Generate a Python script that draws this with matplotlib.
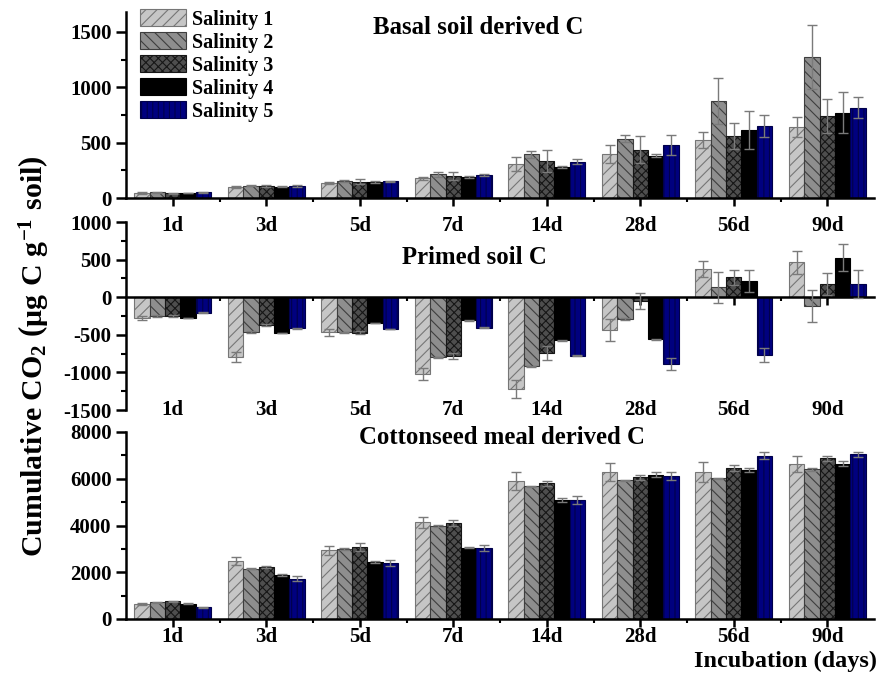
import numpy as np
import matplotlib
matplotlib.use("Agg")
import matplotlib.pyplot as plt
import matplotlib.transforms as mtransforms
from matplotlib.ticker import MultipleLocator, FixedLocator

plt.rcParams['font.family'] = ['Liberation Serif', 'DejaVu Serif']
plt.rcParams['font.weight'] = 'bold'
plt.rcParams['mathtext.fontset'] = 'custom'
plt.rcParams['mathtext.rm'] = 'Liberation Serif:bold'
plt.rcParams['mathtext.it'] = 'Liberation Serif:bold'
plt.rcParams['mathtext.bf'] = 'Liberation Serif:bold'
plt.rcParams['mathtext.default'] = 'rm'
plt.rcParams['hatch.linewidth'] = 0.8
plt.rcParams['axes.unicode_minus'] = False

days = ['1d', '3d', '5d', '7d', '14d', '28d', '56d', '90d']
series = ['Salinity 1', 'Salinity 2', 'Salinity 3', 'Salinity 4', 'Salinity 5']

basal_s1 = [45, 97, 136, 178, 307, 395, 522, 645]
basal_s2 = [50, 112, 157, 214, 395, 536, 880, 1275]
basal_s3 = [42, 108, 148, 199, 337, 437, 561, 741]
basal_s4 = [46, 102, 145, 190, 283, 383, 618, 771]
basal_s5 = [52, 108, 151, 205, 328, 476, 651, 816]
basal_e1 = [5, 8, 10, 12, 60, 80, 72, 90]
basal_e2 = [5, 8, 8, 20, 33, 30, 208, 286]
basal_e3 = [4, 6, 25, 40, 100, 124, 120, 157]
basal_e4 = [3, 5, 6, 8, 10, 10, 171, 185]
basal_e5 = [4, 5, 6, 8, 20, 90, 100, 94]

primed_s1 = [-276, -796, -467, -1027, -1218, -440, 378, 462]
primed_s2 = [-253, -462, -467, -800, -920, -289, 129, -116]
primed_s3 = [-249, -373, -476, -782, -738, -50, 262, 173]
primed_s4 = [-276, -476, -342, -307, -573, -560, 213, 524]
primed_s5 = [-204, -413, -422, -404, -778, -889, -769, 178]
primed_e1 = [22, 66, 50, 80, 120, 147, 106, 151]
primed_e2 = [10, 10, 10, 10, 10, 10, 209, 213]
primed_e3 = [10, 10, 20, 36, 93, 108, 98, 143]
primed_e4 = [5, 5, 5, 5, 5, 10, 147, 178]
primed_e5 = [5, 5, 5, 5, 10, 75, 98, 182]

cotton_s1 = [654, 2479, 2934, 4131, 5912, 6296, 6296, 6638]
cotton_s2 = [712, 2151, 2991, 3974, 5670, 5926, 6011, 6396]
cotton_s3 = [755, 2222, 3091, 4117, 5812, 6068, 6453, 6880]
cotton_s4 = [654, 1880, 2436, 3048, 5085, 6168, 6382, 6652]
cotton_s5 = [500, 1724, 2393, 3034, 5085, 6111, 6994, 7051]
cotton_e1 = [40, 170, 200, 240, 385, 385, 430, 330]
cotton_e2 = [20, 30, 30, 30, 30, 30, 30, 70]
cotton_e3 = [30, 60, 170, 130, 110, 110, 130, 100]
cotton_e4 = [20, 60, 30, 30, 100, 100, 90, 90]
cotton_e5 = [30, 100, 110, 140, 186, 170, 130, 100]

face_colors = ['#c6c6c6', '#8e8e8e', '#4e4e4e', '#000000', '#00007f']
hatch_colors = ['#767676', '#3e3e3e', '#161616', '#000000', '#00004a']
hatches = ['///', '\\\\\\', 'xxxx', '', '|||']

W, H = 880, 676
fig = plt.figure(figsize=(W / 100, H / 100), dpi=100)

def fig_axes(left, right, top, bottom):
    return fig.add_axes([left / W, 1 - bottom / H, (right - left) / W, (bottom - top) / H])

ax1 = fig_axes(126, 874, 12, 198)
ax2 = fig_axes(126, 874, 222, 410)
ax3 = fig_axes(126, 874, 432, 619)
for a in (ax1, ax2, ax3):
    a.patch.set_visible(False)

panels = [
    (ax1, [basal_s1, basal_s2, basal_s3, basal_s4, basal_s5],
     [basal_e1, basal_e2, basal_e3, basal_e4, basal_e5], (0, 1680), 500, 250),
    (ax2, [primed_s1, primed_s2, primed_s3, primed_s4, primed_s5],
     [primed_e1, primed_e2, primed_e3, primed_e4, primed_e5], (-1500, 1000), 500, 250),
    (ax3, [cotton_s1, cotton_s2, cotton_s3, cotton_s4, cotton_s5],
     [cotton_e1, cotton_e2, cotton_e3, cotton_e4, cotton_e5], (0, 8000), 2000, 1000),
]

TL = 15
x = np.arange(len(days))
bw = 0.164
legend_handles = []
for ax, vals, errs, ylim, major, minor in panels:
    for i in range(5):
        xs = x + (i - 2) * bw
        b = ax.bar(xs, vals[i], bw, color=face_colors[i], edgecolor=hatch_colors[i],
                   hatch=hatches[i], linewidth=0.8, label=series[i], zorder=2)
        ax.errorbar(xs, vals[i], yerr=errs[i], fmt='none', ecolor='#7a7a7a',
                    elinewidth=1.0, capsize=3.5, capthick=1.0, zorder=3)
        if ax is ax1:
            legend_handles.append(b)
    ax.set_xlim(-0.5, 7.5)
    ax.set_ylim(*ylim)
    ax.yaxis.set_major_locator(MultipleLocator(major))
    ax.yaxis.set_minor_locator(MultipleLocator(minor))
    ax.xaxis.set_major_locator(FixedLocator(x))
    ax.xaxis.set_minor_locator(FixedLocator(x[:-1] + 0.5))
    for s in ['top', 'right']:
        ax.spines[s].set_visible(False)
    for s in ['left', 'bottom']:
        ax.spines[s].set_linewidth(1.8)
    ax.tick_params(axis='both', which='major', direction='out', length=7, width=1.8,
                   labelsize=TL, pad=3.5)
    ax.tick_params(axis='both', which='minor', direction='out', length=3.5, width=1.5)
    ax.tick_params(axis='x', which='minor', length=3)
    ax.tick_params(axis='x', which='major', length=6)
    for lab in ax.get_yticklabels():
        lab.set_fontweight('bold')

ax1.set_xticks(x)
ax1.set_xticklabels(days, fontweight='bold')
ax1.tick_params(axis='x', which='major', pad=7)
ax3.set_xticks(x)
ax3.set_xticklabels(days, fontweight='bold')
ax3.tick_params(axis='x', which='major', pad=0)

ax2.spines['bottom'].set_position(('data', 0))
ax2.set_xticks(x)
ax2.set_xticklabels([])
trans2 = mtransforms.blended_transform_factory(ax2.transData, ax2.transAxes)
for i, d in enumerate(days):
    ax2.text(x[i], 0.0, d, transform=trans2, ha='center', va='center',
             fontsize=TL, fontweight='bold')

fig.text(478 / W, 1 - 27 / H, 'Basal soil derived C', ha='center', va='center',
         fontsize=17.8, fontweight='bold')
fig.text(474 / W, 1 - 257 / H, 'Primed soil C', ha='center', va='center',
         fontsize=17.8, fontweight='bold')
fig.text(502 / W, 1 - 438 / H, 'Cottonseed meal derived C', ha='center', va='center',
         fontsize=17.8, fontweight='bold')
fig.text(877 / W, 1 - 661 / H, 'Incubation (days)', ha='right', va='center',
         fontsize=17.5, fontweight='bold')
fig.text(33 / W, 1 - 356 / H, r'Cumulative CO$_2$ $\left(\mu g\ C\ g^{-1}\ soil\right)$',
         rotation=90, ha='center', va='center', fontsize=21.5, fontweight='bold')

fig.legend(handles=legend_handles, labels=series, loc='upper left',
           bbox_to_anchor=(140 / W, 1 - 9 / H), bbox_transform=fig.transFigure,
           frameon=False, borderpad=0, borderaxespad=0,
           handlelength=2.3, handleheight=0.95, labelspacing=0.12, handletextpad=0.3,
           prop={'weight': 'bold', 'size': 14.5})

fig.savefig('out.png', dpi=100)
